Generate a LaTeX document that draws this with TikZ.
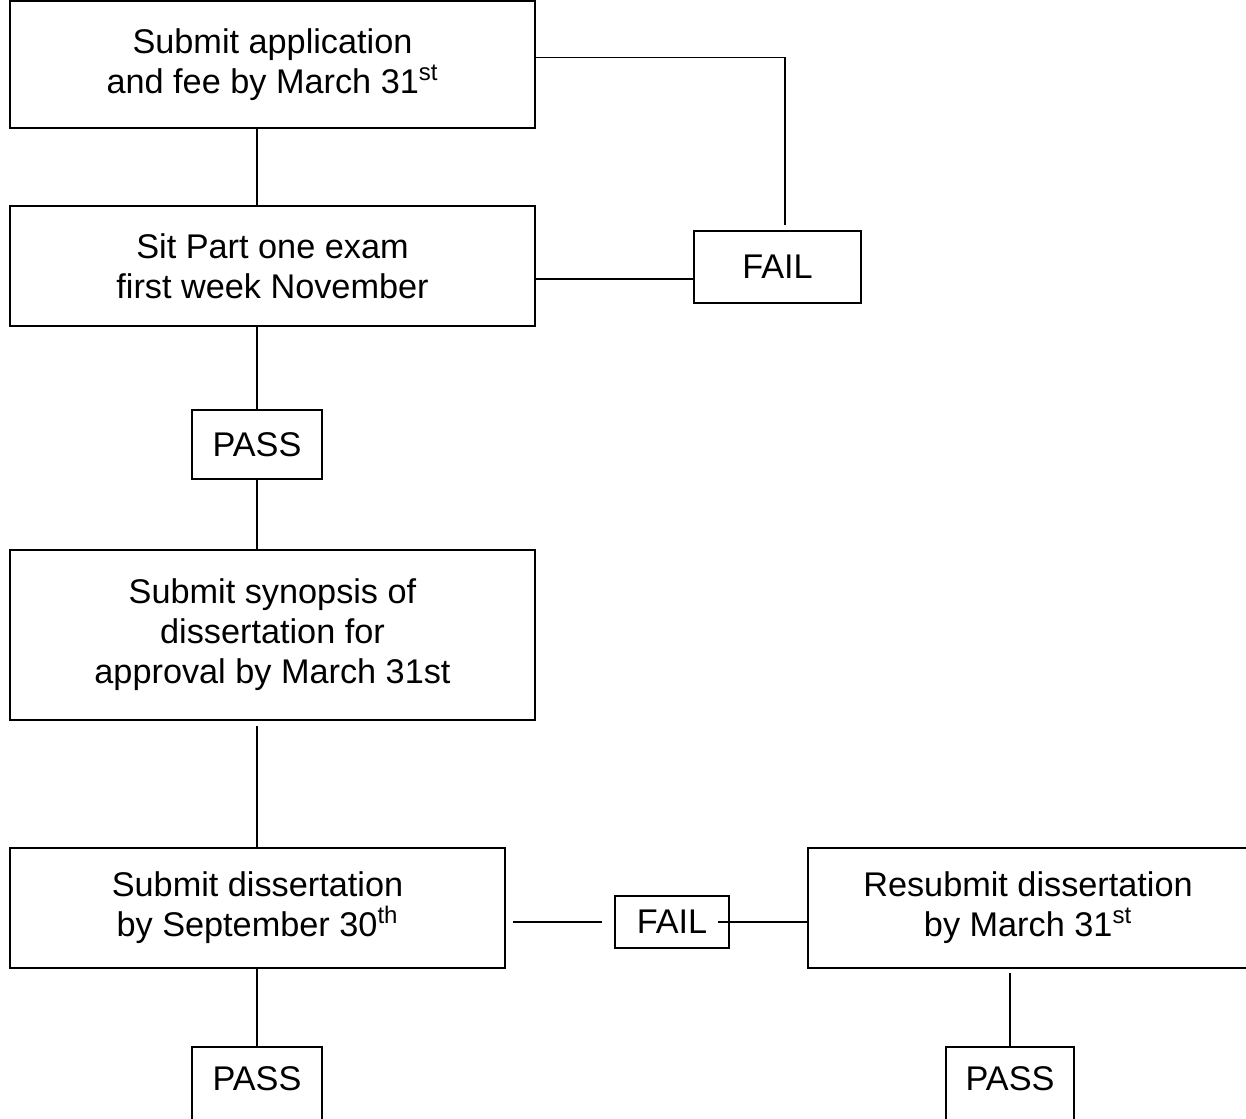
\documentclass[tikz,border=0pt]{standalone}
\usepackage{fontspec}
\setmainfont{Liberation Sans}
\tikzset{
  stagebox/.style={draw, line width=1.3pt, align=center, inner sep=2pt,
    font=\fontsize{19.5}{22.7}\selectfont},
  resultbox/.style={stagebox, minimum height=1.38cm},
  link/.style={line width=0.8pt}
}
\begin{document}
\begin{tikzpicture}[x=0.02cm, y=-0.02cm]
\path[clip, use as bounding box] (0,0) rectangle (1246,1118);
% stages
\node[stagebox, minimum width=10.5cm, minimum height=2.54cm] (app) at (272.5,64.5) {Submit application\\and fee by March 31\textsuperscript{st}};
\node[stagebox, minimum width=10.5cm, minimum height=2.4cm] (sit) at (272.5,266) {Sit Part one exam\\first week November};
\node[stagebox, minimum width=10.5cm, minimum height=3.4cm] (synop) at (272.5,635) {Submit synopsis of\\dissertation for\\approval by March 31st};
\node[stagebox, minimum width=9.9cm, minimum height=2.4cm] (diss) at (257.5,908) {Submit dissertation\\by September 30\textsuperscript{th}};
\node[stagebox, minimum width=8.8cm, minimum height=2.4cm] (resub) at (1028,908) {Resubmit dissertation\\by March 31\textsuperscript{st}};
% results
\node[resultbox, minimum width=3.34cm, minimum height=1.44cm] (fail1) at (777.5,267) {FAIL};
\node[resultbox, minimum width=2.6cm] (pass1) at (257,444.5) {PASS};
\node[resultbox, minimum width=2.28cm, minimum height=1.04cm] (fail2) at (672,922) {FAIL};
\node[resultbox, minimum width=2.6cm, anchor=north, text height=0.8cm, text depth=0.6cm] (pass2) at (257,1046) {PASS};
\node[resultbox, minimum width=2.56cm, anchor=north, text height=0.8cm, text depth=0.6cm] (pass3) at (1010,1046) {PASS};
% connectors
\draw[link] (app.south -| pass1.north) -- (sit.north -| pass1.north);
\draw[link] ([yshift=0.14cm]app.east) -| ([xshift=0.15cm,yshift=0.1cm]fail1.north);
\draw[link] ([yshift=-0.24cm]fail1.west -| sit.east) -- ([yshift=-0.24cm]fail1.west);
\draw[link] (sit.south -| pass1.north) -- (pass1.north);
\draw[link] (pass1.south) -- (synop.north -| pass1.south);
\draw[link] ([yshift=-0.1cm]synop.south -| pass1.south) -- (diss.north -| pass1.south);
\draw[link, shorten <=0.14cm, shorten >=0.24cm] (fail2.west -| diss.east) -- (fail2.west);
\draw[link, shorten <=-0.24cm] (fail2.east) -- (fail2.east -| resub.west);
\draw[link] (diss.south -| pass2.north) -- (pass2.north);
\draw[link, shorten <=0.08cm] (resub.south -| pass3.north) -- (pass3.north);
\end{tikzpicture}
\end{document}
